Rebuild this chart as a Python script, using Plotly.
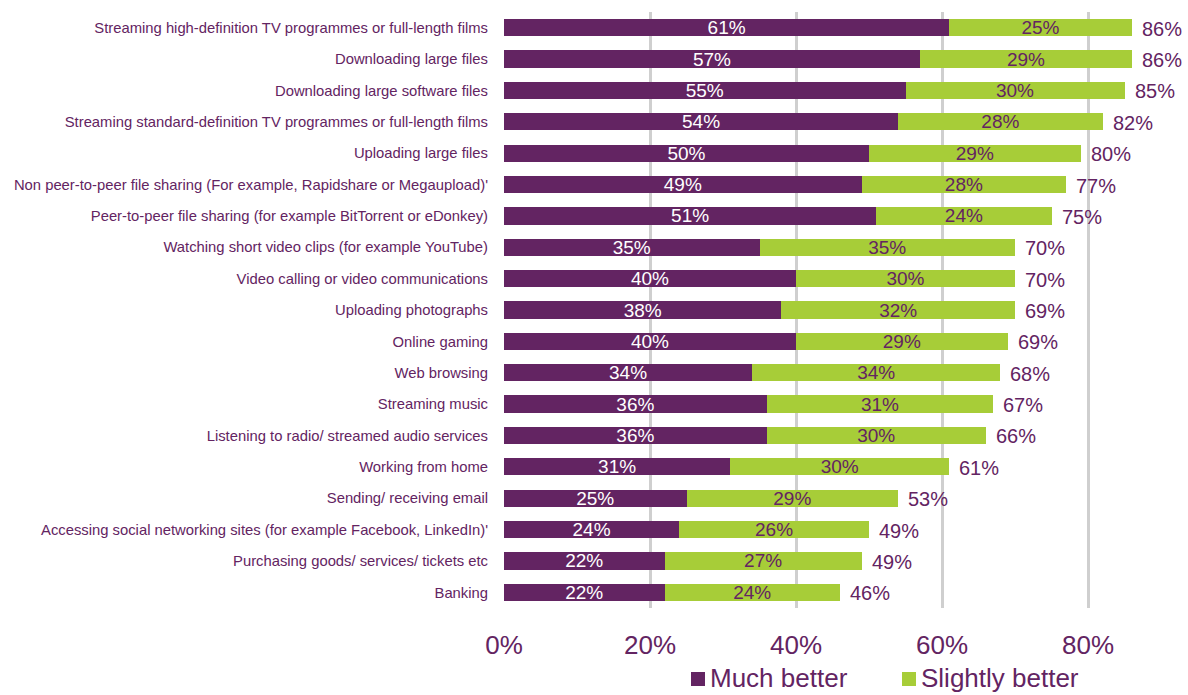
import plotly.graph_objects as go

# Survey: how much better each online activity would be with faster broadband
activities = [
    "Streaming high-definition TV programmes or full-length films",
    "Downloading large files",
    "Downloading large software files",
    "Streaming standard-definition TV programmes or full-length films",
    "Uploading large files",
    "Non peer-to-peer file sharing (For example, Rapidshare or Megaupload)'",
    "Peer-to-peer file sharing (for example BitTorrent or eDonkey)",
    "Watching short video clips (for example YouTube)",
    "Video calling or video communications",
    "Uploading photographs",
    "Online gaming",
    "Web browsing",
    "Streaming music",
    "Listening to radio/ streamed audio services",
    "Working from home",
    "Sending/ receiving email",
    "Accessing social networking sites (for example Facebook, LinkedIn)'",
    "Purchasing goods/ services/ tickets etc",
    "Banking",
]
much_better = [61, 57, 55, 54, 50, 49, 51, 35, 40, 38, 40, 34, 36, 36, 31, 25, 24, 22, 22]
slightly_better = [25, 29, 30, 28, 29, 28, 24, 35, 30, 32, 29, 34, 31, 30, 30, 29, 26, 27, 24]
totals = [86, 86, 85, 82, 80, 77, 75, 70, 70, 69, 69, 68, 67, 66, 61, 53, 49, 49, 46]
x_ticks = [0, 20, 40, 60, 80]
x_tick_labels = ["0%", "20%", "40%", "60%", "80%"]
series_names = ["Much better", "Slightly better"]

PURPLE = "#632462"
GREEN = "#a7cd38"
FONT = "Liberation Sans, Arial, sans-serif"

W, H = 1188, 695
L, R, T, B = 504, 0, 12, 87
plot_w = W - L - R
plot_h = H - T - B
x_max = plot_w / 7.3  # 7.3 px per percentage point


def px_to_paper_x(px):
    return (px - L) / plot_w


def px_to_paper_y(py):
    return (H - B - py) / plot_h


fig = go.Figure()
fig.add_trace(go.Bar(
    y=activities, x=much_better, orientation="h", name=series_names[0],
    marker=dict(color=PURPLE, line=dict(width=0)),
    text=[f"{v}%" for v in much_better], textposition="inside",
    insidetextanchor="middle", constraintext="none",
    textfont=dict(family=FONT, size=19, color="white"),
    hoverinfo="skip",
))
fig.add_trace(go.Bar(
    y=activities, x=slightly_better, orientation="h", name=series_names[1],
    marker=dict(color=GREEN, line=dict(width=0)),
    text=[f"{v}%" for v in slightly_better], textposition="inside",
    insidetextanchor="middle", constraintext="none",
    textfont=dict(family=FONT, size=19, color=PURPLE),
    hoverinfo="skip",
))

# Total labels just past the end of each stacked bar
for act, m, s, t in zip(activities, much_better, slightly_better, totals):
    fig.add_annotation(
        x=m + s, y=act, text=f"{t}%", showarrow=False,
        xanchor="left", xshift=8, yshift=-1,
        font=dict(family=FONT, size=20, color=PURPLE),
    )

# Legend below the axis: coloured squares with series names
legend_items = [(series_names[0], PURPLE, 691), (series_names[1], GREEN, 902)]
for name, color, sq_left in legend_items:
    fig.add_shape(
        type="rect", xref="paper", yref="paper",
        x0=px_to_paper_x(sq_left), x1=px_to_paper_x(sq_left + 14),
        y0=px_to_paper_y(686), y1=px_to_paper_y(672),
        fillcolor=color, line=dict(width=0),
    )
    fig.add_annotation(
        xref="paper", yref="paper",
        x=px_to_paper_x(sq_left + 17), y=px_to_paper_y(695),
        xanchor="left", yanchor="bottom", showarrow=False,
        text=name, font=dict(family=FONT, size=26, color=PURPLE),
    )

fig.update_layout(
    width=W, height=H,
    margin=dict(l=L, r=R, t=T, b=B, pad=0, autoexpand=False),
    barmode="stack", bargap=0.45,
    plot_bgcolor="white", paper_bgcolor="white",
    font=dict(family=FONT, color=PURPLE),
    showlegend=False,
)
fig.update_xaxes(
    range=[0, x_max], tickvals=x_ticks, ticktext=x_tick_labels,
    showgrid=True, gridcolor="#cfcfcf", gridwidth=3, zeroline=False,
    showline=False, ticks="", ticklabelstandoff=19, automargin=False,
    tickfont=dict(family=FONT, size=26, color=PURPLE), fixedrange=True,
)
fig.update_yaxes(
    categoryorder="array", categoryarray=activities, autorange="reversed",
    showgrid=False, zeroline=False, showline=False, ticks="",
    ticklabelstandoff=15, automargin=False,
    tickfont=dict(family=FONT, size=14.8, color=PURPLE), fixedrange=True,
)

fig.write_html("out.html", config={"displayModeBar": False})
